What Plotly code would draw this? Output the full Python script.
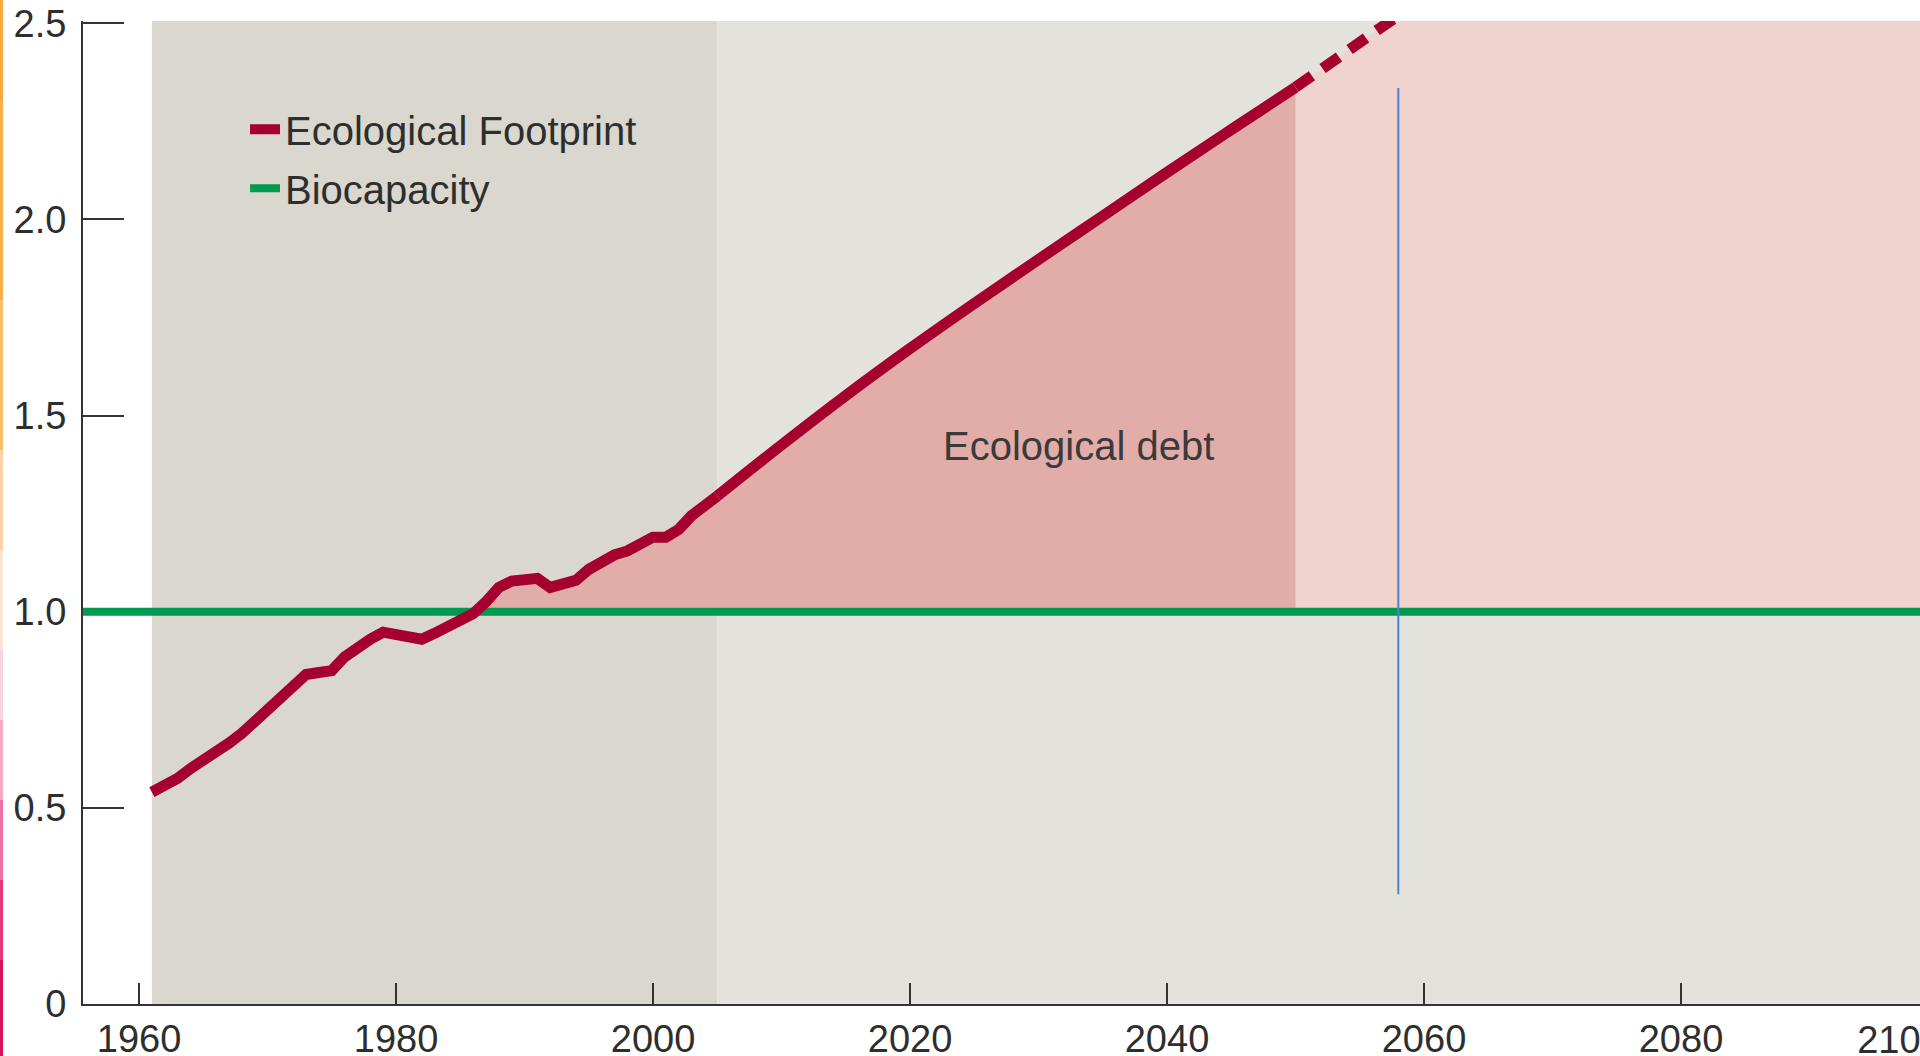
import numpy as np
import plotly.graph_objects as go

# ---------------- data ----------------
hist_years = list(range(1961, 2006))
hist_fp = [0.54, 0.555, 0.575, 0.60, 0.62, 0.645, 0.665, 0.69, 0.72, 0.755,
           0.78, 0.81, 0.84, 0.845, 0.85, 0.885, 0.91, 0.93, 0.948, 0.943,
           0.935, 0.93, 0.945, 0.963, 0.978, 0.995, 1.025, 1.062, 1.078, 1.082,
           1.085, 1.062, 1.072, 1.08, 1.108, 1.13, 1.145, 1.155, 1.17, 1.19,
           1.19, 1.21, 1.245, 1.272, 1.295]
proj_years = [2010, 2015, 2020, 2025, 2030, 2035, 2040, 2045, 2050]
proj_fp = [1.425, 1.551, 1.671, 1.786, 1.898, 2.009, 2.12, 2.229, 2.337]
dash_years = [2050, 2058]
dash_fp = [2.337, 2.52]
biocapacity = 1.0
marker_years = [2058, 2058]
marker_vals = [0.28, 2.335]
debt_label = "Ecological debt"
debt_label_pos = (2033.1, 1.422)

x_tick_vals = [1960, 1980, 2000, 2020, 2040, 2060, 2080]
x_tick_text = ["1960", "1980", "2000", "2020", "2040", "2060", "2080"]
edge_tick_val = [2097]
edge_tick_text = ["2100"]
y_tick_vals = [0, 0.5, 1.0, 1.5, 2.0, 2.5]
y_tick_text = ["0", "0.5", "1.0", "1.5", "2.0", "2.5"]

x_range = [1955.64, 2098.6]
y_range = [0, 2.506]

# ---------------- colours ----------------
RED = "#a6002e"
GREEN = "#009a50"
BLUE = "#4f82c9"
DEBT = "#e2aca8"
PINK = "#f0d2ce"
DARK_BG = "#dad7cf"
LIGHT_BG = "#e3e2dc"
TXT = "#2e2e2e"
FONT = "Liberation Sans, Arial, Helvetica, sans-serif"

W, H = 1920, 1056
ML, MR, MT, MB = 83, 0, 21, 52

years = hist_years + proj_years
fp = hist_fp + proj_fp

# ecological debt region (footprint above biocapacity)
fp_arr = np.array(fp)
yr_arr = np.array(years, dtype=float)
i = int(np.argmax(fp_arr >= biocapacity))
cross = yr_arr[i - 1] + (biocapacity - fp_arr[i - 1]) * (yr_arr[i] - yr_arr[i - 1]) / (fp_arr[i] - fp_arr[i - 1])
debt_x = [cross] + list(yr_arr[i:]) + [yr_arr[-1]]
debt_y = [biocapacity] + list(fp_arr[i:]) + [biocapacity]

# projected overshoot region
pink_x = [dash_years[0]] + dash_years + [x_range[1] + 5, x_range[1] + 5]
pink_y = [biocapacity] + dash_fp + [dash_fp[-1], biocapacity]

fig = go.Figure()

fig.add_trace(go.Scatter(x=pink_x, y=pink_y, fill="toself", fillcolor=PINK,
                         mode="none", showlegend=False, hoverinfo="skip"))
fig.add_trace(go.Scatter(x=debt_x, y=debt_y, fill="toself", fillcolor=DEBT,
                         mode="none", showlegend=False, hoverinfo="skip"))

fig.add_trace(go.Scatter(x=[x_range[0], x_range[1]], y=[biocapacity, biocapacity],
                         mode="lines", line=dict(color=GREEN, width=8),
                         name="Biocapacity", legendgroup="b", legendrank=2))

fig.add_trace(go.Scatter(x=dash_years, y=dash_fp, mode="lines",
                         line=dict(color=RED, width=11, dash="20px,13px"),
                         showlegend=False))
# projection (smooth)
fig.add_trace(go.Scatter(x=[hist_years[-1]] + proj_years, y=[hist_fp[-1]] + proj_fp,
                         mode="lines", line=dict(color=RED, width=11, shape="spline",
                                                 smoothing=1.0),
                         showlegend=False, legendgroup="a"))
# historical
fig.add_trace(go.Scatter(x=hist_years, y=hist_fp, mode="lines",
                         line=dict(color=RED, width=11),
                         name="Ecological Footprint", legendgroup="a", legendrank=1))

fig.add_trace(go.Scatter(x=marker_years, y=marker_vals, mode="lines",
                         line=dict(color=BLUE, width=2), showlegend=False))

# invisible trace for the edge tick label axis
fig.add_trace(go.Scatter(x=[x_range[0]], y=[0], xaxis="x2", mode="markers",
                         marker=dict(opacity=0), showlegend=False, hoverinfo="skip"))

shapes = [
    dict(type="rect", xref="x", yref="paper", x0=hist_years[0], x1=hist_years[-1],
         y0=0, y1=1, fillcolor=DARK_BG, line=dict(width=0), layer="below"),
    dict(type="rect", xref="x", yref="paper", x0=hist_years[-1], x1=x_range[1] + 5,
         y0=0, y1=1, fillcolor=LIGHT_BG, line=dict(width=0), layer="below"),
]

# thin coloured strip along the left edge of the picture
strip = [(0, 100, "#f7a83a"), (100, 300, "#f8b04a"), (300, 450, "#fabd6a"),
         (450, 550, "#fcd3a8"), (550, 650, "#fde3d4"), (650, 720, "#fbd2e0"),
         (720, 800, "#f6a8c5"), (800, 880, "#ee70a0"), (880, 960, "#e23a7c"),
         (960, 1056, "#d4145a")]
pw = W - ML - MR
ph = H - MT - MB
for y0p, y1p, c in strip:
    shapes.append(dict(type="rect", xref="paper", yref="paper",
                       x0=-ML / pw, x1=(3 - ML) / pw,
                       y0=(H - MB - y1p) / ph, y1=(H - MB - y0p) / ph,
                       fillcolor=c, line=dict(width=0), layer="above"))

fig.update_layout(
    width=W, height=H,
    margin=dict(l=ML, r=MR, t=MT, b=MB, autoexpand=False),
    paper_bgcolor="white", plot_bgcolor="white",
    font=dict(family=FONT, color=TXT),
    shapes=shapes,
    showlegend=True,
    legend=dict(x=0.0882, y=0.923, xanchor="left", yanchor="top",
                bgcolor="rgba(0,0,0,0)", font=dict(size=40, color=TXT),
                traceorder="grouped", tracegroupgap=4),
    xaxis=dict(range=x_range, tickvals=x_tick_vals, ticktext=x_tick_text,
               ticks="inside", ticklen=21, tickwidth=2, tickcolor="#333",
               showline=True, linecolor="#333", linewidth=2, automargin=False,
               showgrid=False, zeroline=False, ticklabeloverflow="allow",
               tickfont=dict(size=38, color=TXT), ticklabelstandoff=0),
    xaxis2=dict(range=x_range, overlaying="x", anchor="y", side="bottom",
                tickvals=edge_tick_val, ticktext=edge_tick_text, ticks="",
                showline=False, showgrid=False, zeroline=False, automargin=False,
                ticklabeloverflow="allow",
                tickfont=dict(size=38, color=TXT), ticklabelstandoff=10),
    yaxis=dict(range=y_range, tickvals=y_tick_vals, ticktext=y_tick_text,
               ticks="inside", ticklen=41, tickwidth=2, tickcolor="#333",
               showline=True, linecolor="#333", linewidth=2, automargin=False,
               showgrid=False, zeroline=False, layer="below traces",
               tickfont=dict(size=38, color=TXT), ticklabelstandoff=7),
    annotations=[dict(x=debt_label_pos[0], y=debt_label_pos[1], xref="x", yref="y",
                      text=debt_label, showarrow=False,
                      font=dict(size=40, color="#3a3a3a"))],
)

fig.write_html("out.html",
               config={"displayModeBar": False},
               post_script="document.body.style.margin='0';"
                           "document.body.style.overflow='hidden';")
